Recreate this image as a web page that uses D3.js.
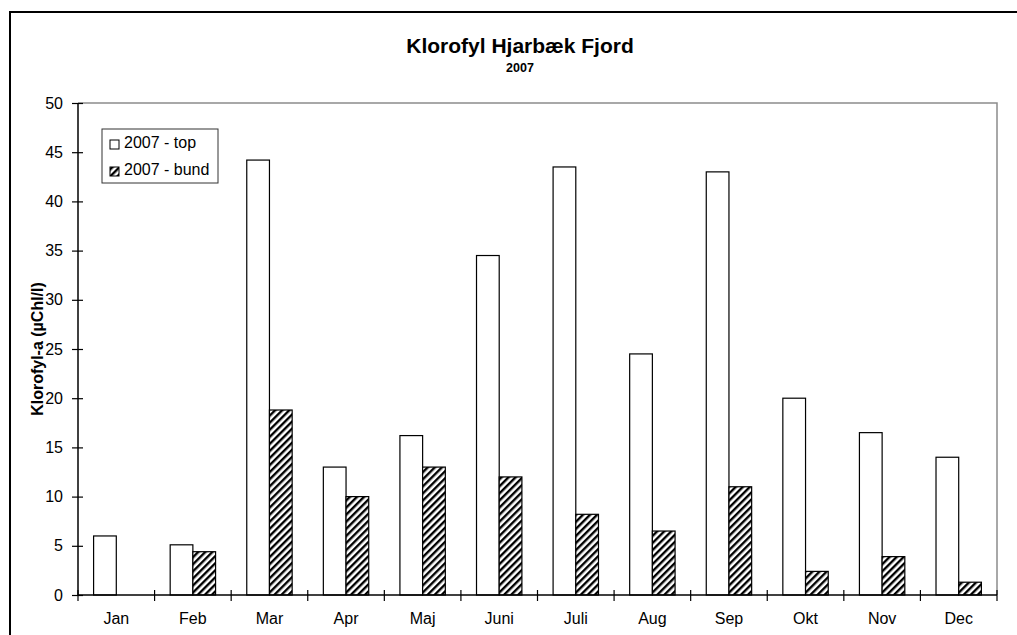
<!DOCTYPE html>
<html>
<head>
<meta charset="utf-8">
<script src="https://cdn.jsdelivr.net/npm/d3@7"></script>
<style>
  body { margin: 0; background: #fff; }
  svg text { font-family: "Liberation Sans", Arial, sans-serif; }
</style>
</head>
<body>
<div id="chart"></div>
<script>
const months = ["Jan", "Feb", "Mar", "Apr", "Maj", "Juni", "Juli", "Aug", "Sep", "Okt", "Nov", "Dec"];
const topValues = [6, 5.1, 44.2, 13, 16.2, 34.5, 43.5, 24.5, 43, 20, 16.5, 14];
const bundValues = [null, 4.4, 18.8, 10, 13, 12, 8.2, 6.5, 11, 2.4, 3.9, 1.3];
const yTicks = [0, 5, 10, 15, 20, 25, 30, 35, 40, 45, 50];
const seriesNames = ["2007 - top", "2007 - bund"];

const width = 1017, height = 635;

const svg = d3.select("#chart").append("svg")
  .attr("width", width)
  .attr("height", height);

// hatch for the bottom series
svg.append("defs").append("pattern")
  .attr("id", "hatch")
  .attr("patternUnits", "userSpaceOnUse")
  .attr("width", 5)
  .attr("height", 5)
  .attr("patternTransform", "rotate(45)")
  .call(p => {
    p.append("rect").attr("width", 5).attr("height", 5).attr("fill", "#fff");
    p.append("rect").attr("width", 2.4).attr("height", 5).attr("fill", "#000");
  });

// outer chart border
svg.append("rect")
  .attr("x", 10).attr("y", 12)
  .attr("width", 1030).attr("height", 650)
  .attr("fill", "none").attr("stroke", "#000").attr("stroke-width", 2);

const x0 = 78, x1 = 997, yTop = 103, yBot = 595;

const x = d3.scaleBand().domain(months).range([x0, x1]).paddingInner(0).paddingOuter(0);
const inner = d3.scaleBand().domain(seriesNames).range([0, x.bandwidth()]).paddingInner(0).paddingOuter(0.687);
const y = d3.scaleLinear().domain([0, 50]).range([yBot, yTop]);

// plot area frame (top & right in grey)
svg.append("path")
  .attr("d", `M${x0},${yTop}H${x1}V${yBot}`)
  .attr("fill", "none").attr("stroke", "#8c8c8c").attr("stroke-width", 1.5);

const g = svg.append("g");

const rows = months.map((m, i) => ({ m, vals: [topValues[i], bundValues[i]] }));

g.selectAll("g.month").data(rows).join("g")
  .attr("class", "month")
  .attr("transform", d => `translate(${x(d.m)},0)`)
  .selectAll("rect")
  .data(d => d.vals.map((v, k) => ({ v, k })).filter(e => e.v != null))
  .join("rect")
  .attr("x", e => inner(seriesNames[e.k]))
  .attr("width", inner.bandwidth())
  .attr("y", e => y(e.v))
  .attr("height", e => y(0) - y(e.v))
  .attr("fill", e => e.k === 0 ? "#fff" : "url(#hatch)")
  .attr("stroke", "#000")
  .attr("stroke-width", 1.2);

// y axis
const yAxis = svg.append("g")
  .attr("transform", `translate(${x0},0)`)
  .call(d3.axisLeft(y).tickValues(yTicks).tickSize(5));
yAxis.select(".domain").attr("stroke", "#000").attr("stroke-width", 1.5).attr("d", `M0,${yTop}V${yBot}`);
yAxis.selectAll(".tick line").attr("x1", -6).attr("x2", 5).attr("stroke", "#000").attr("stroke-width", 1.2);
yAxis.selectAll(".tick text").attr("font-size", 16).attr("fill", "#000").attr("x", -15);

// x axis
const xAxis = svg.append("g")
  .attr("transform", `translate(0,${yBot})`)
  .call(d3.axisBottom(x).tickSize(0).tickPadding(18));
xAxis.select(".domain").attr("stroke", "#000").attr("stroke-width", 1.5).attr("d", `M${x0},0H${x1}`);
xAxis.selectAll(".tick text").attr("font-size", 16).attr("fill", "#000");
svg.append("g").selectAll("line")
  .data(months.concat(["end"]))
  .join("line")
  .attr("x1", (d, i) => x0 + i * x.step())
  .attr("x2", (d, i) => x0 + i * x.step())
  .attr("y1", yBot - 5).attr("y2", yBot + 6)
  .attr("stroke", "#000").attr("stroke-width", 1.2);

// titles
svg.append("text")
  .attr("x", 520).attr("y", 53)
  .attr("text-anchor", "middle")
  .attr("font-size", 21).attr("font-weight", "bold")
  .text("Klorofyl Hjarbæk Fjord");
svg.append("text")
  .attr("x", 520).attr("y", 72)
  .attr("text-anchor", "middle")
  .attr("font-size", 12.5).attr("font-weight", "bold")
  .text("2007");
svg.append("text")
  .attr("transform", `translate(43,${(yTop + yBot) / 2}) rotate(-90)`)
  .attr("text-anchor", "middle")
  .attr("font-size", 16).attr("font-weight", "bold")
  .text("Klorofyl-a (µChl/l)");

// legend
const legend = svg.append("g").attr("transform", "translate(102,129)");
legend.append("rect")
  .attr("width", 116).attr("height", 54)
  .attr("fill", "#fff").attr("stroke", "#333").attr("stroke-width", 1);
legend.selectAll("g.item").data(seriesNames).join("g")
  .attr("class", "item")
  .attr("transform", (d, i) => `translate(8,${19 + i * 27})`)
  .call(it => {
    it.append("rect")
      .attr("x", 0).attr("y", -8)
      .attr("width", 9).attr("height", 9)
      .attr("fill", (d, i) => i === 0 ? "#fff" : "url(#hatch)")
      .attr("stroke", "#000").attr("stroke-width", 1);
    it.append("text")
      .attr("x", 14).attr("y", 0)
      .attr("font-size", 16)
      .text(d => d);
  });
</script>
</body>
</html>
